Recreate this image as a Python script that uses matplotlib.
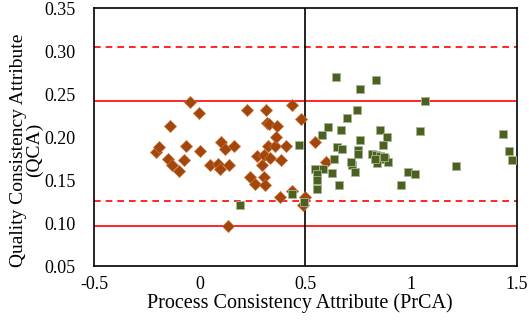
import numpy as np
import matplotlib
matplotlib.use("Agg")
import matplotlib.pyplot as plt

plt.rcParams["font.family"] = ["Liberation Serif", "DejaVu Serif"]

# orange diamonds
x_dia = [-0.045, -0.001, -0.14, -0.208, -0.192, -0.152, -0.132, -0.10, -0.074, -0.064,
         0.002, 0.05, 0.085, 0.097, 0.10, 0.121, 0.137, 0.16, 0.134, 0.224,
         0.239, 0.263, 0.271, 0.295, 0.302, 0.305, 0.31, 0.315, 0.318, 0.33,
         0.325, 0.334, 0.358, 0.363, 0.366, 0.381, 0.385, 0.41, 0.437, 0.437,
         0.479, 0.489, 0.497, 0.546, 0.597]
y_dia = [0.241, 0.2276, 0.2128, 0.183, 0.188, 0.175, 0.167, 0.161, 0.173, 0.189,
         0.184, 0.168, 0.169, 0.163, 0.194, 0.186, 0.168, 0.189, 0.096, 0.231,
         0.154, 0.145, 0.178, 0.168, 0.179, 0.154, 0.144, 0.231, 0.216, 0.215,
         0.189, 0.176, 0.189, 0.200, 0.213, 0.130, 0.173, 0.189, 0.237, 0.137,
         0.221, 0.121, 0.130, 0.194, 0.171]

# green squares
x_sq = [0.189, 0.47, 0.437, 0.495, 0.645, 0.836, 0.758, 1.064, 0.742, 0.695,
        0.608, 0.668, 0.577, 0.852, 0.888, 1.041, 1.434, 0.758, 0.868, 0.648,
        0.671, 0.75, 1.465, 0.75, 0.813, 0.836, 0.852, 0.876, 0.891, 0.84,
        1.478, 0.637, 0.719, 0.546, 0.585, 0.554, 0.735, 0.624, 0.986, 1.017,
        1.214, 0.554, 0.554, 0.66, 0.951, 0.714, 0.83, 0.87]
y_sq = [0.121, 0.191, 0.134, 0.125, 0.270, 0.266, 0.256, 0.242, 0.231, 0.222,
        0.212, 0.208, 0.202, 0.208, 0.200, 0.207, 0.203, 0.196, 0.191, 0.188,
        0.186, 0.185, 0.184, 0.180, 0.180, 0.179, 0.178, 0.175, 0.171, 0.170,
        0.173, 0.174, 0.167, 0.163, 0.163, 0.157, 0.159, 0.158, 0.159, 0.157,
        0.166, 0.150, 0.139, 0.144, 0.144, 0.171, 0.175, 0.177]

# control limits
solid_lines = [0.0965, 0.242]
dashed_lines = [0.1256, 0.305]

fig = plt.figure(figsize=(5.29, 3.21), dpi=100)
ax = fig.add_axes([0.1777, 0.1713, 0.7993, 0.8037])

for v in solid_lines:
    ax.axhline(v, color="red", lw=1.2, zorder=1)
for v in dashed_lines:
    ax.axhline(v, color="red", lw=1.2, ls=(0, (4, 3)), zorder=1)
ax.axvline(0.5, color="black", lw=1.2, zorder=1)

ax.scatter(x_dia, y_dia, marker="D", s=38, c="#a2460b", edgecolors="#c8743c",
           linewidths=0.5, zorder=3)
ax.scatter(x_sq, y_sq, marker="s", s=36, c="#4b6124", edgecolors="#a8b58e",
           linewidths=0.6, zorder=3)

ax.set_xlim(-0.5, 1.5)
ax.set_ylim(0.05, 0.35)
ax.set_xticks([-0.5, 0, 0.5, 1, 1.5])
ax.set_xticklabels(["-0.5", "0", "0.5", "1", "1.5"])
ax.set_yticks(np.arange(0.05, 0.351, 0.05))
ax.set_yticklabels(["%.2f" % v for v in np.arange(0.05, 0.351, 0.05)])
ax.tick_params(length=0, labelsize=13)
ax.tick_params(axis="y", pad=13)
ax.tick_params(axis="x", pad=7)
for s in ax.spines.values():
    s.set_linewidth(1.2)

ax.set_xlabel("Process Consistency Attribute (PrCA)", fontsize=14.5, labelpad=0)
ax.set_ylabel("Quality Consistency Attribute\n(QCA)", fontsize=14, linespacing=0.95)
ax.yaxis.set_label_coords(-0.12, 0.45)
ax.xaxis.set_label_coords(0.486, -0.105)

fig.savefig("out.png", dpi=100)
